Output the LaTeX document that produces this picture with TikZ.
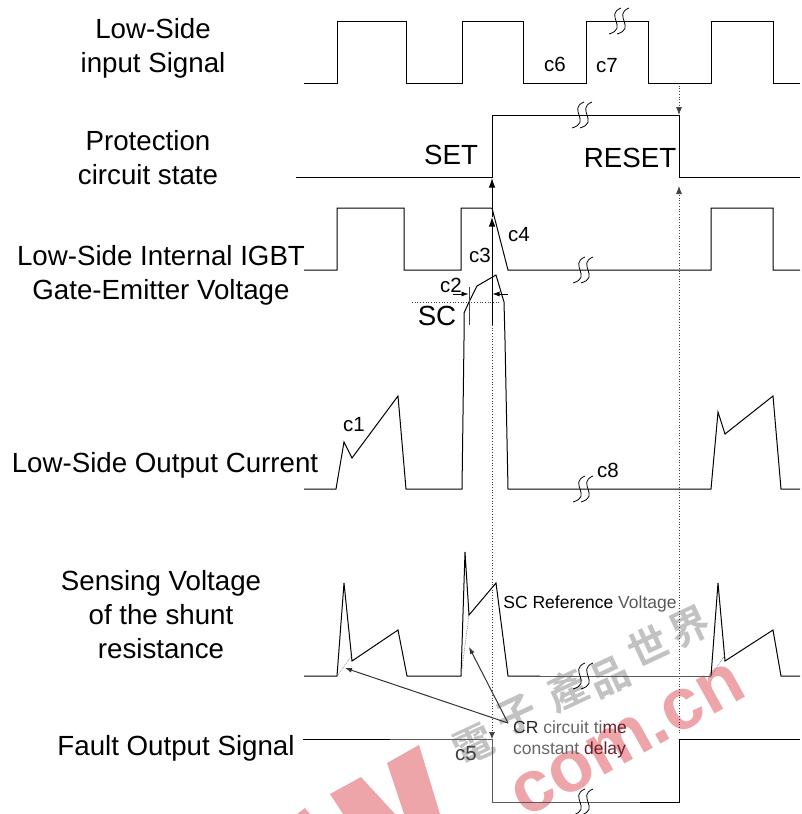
\documentclass[tikz,border=0pt]{standalone}
\usepackage{fontspec}
\setmainfont{Liberation Sans}
\newfontfamily\cjkwm{Noto Sans CJK TC}[BoldFont={* Bold}]
\usetikzlibrary{arrows.meta}
\definecolor{wmpink}{HTML}{EDA5AA}
\definecolor{wmgray}{HTML}{C2C2C2}
\definecolor{wmdark}{HTML}{6E1F28}
\newcommand{\brk}[2]{%
  \begin{scope}[shift={(#1,#2)}]
    \draw[wave,line width=.8pt] (-10,13) .. controls (10,7) and (-15,-6) .. (2,-13);
    \draw[wave,line width=.8pt] (-2,13) .. controls (18,7) and (-7,-6) .. (10,-13);
  \end{scope}}
\tikzset{
  wave/.style={draw=black,line width=1pt,line join=miter},
  fadewave/.style={draw=black!65,line width=1pt,line join=miter},
  thinwave/.style={draw=black!55,line width=.7pt,densely dotted},
  dots/.style={draw=black!75,line width=.7pt,dotted},
  tip/.style={-{Latex[length=9.5pt,width=6.5pt]}},
  smalltip/.style={-{Latex[length=7pt,width=5pt]}},
  big/.style={font=\fontsize{27.7}{34}\selectfont,align=center,inner sep=0pt},
  lab/.style={font=\fontsize{20.5}{24}\selectfont,inner sep=0pt},
  mid/.style={font=\fontsize{17.5}{21}\selectfont,align=left,inner sep=0pt},
  wmc/.style={wmgray,font=\cjkwm\bfseries\fontsize{40}{40}\selectfont,inner sep=0pt}
}
\begin{document}
\begin{tikzpicture}[x=1pt,y=-1pt]
\useasboundingbox (0,0) rectangle (802,814);
% watermark
\fill[wmpink] (297,814) -- (305,808) -- (310,814) -- cycle;
\fill[wmpink] (330,794) -- (361,777) -- (395,814) -- (343,814) -- cycle;
\fill[wmpink] (387,763) -- (419,745) -- (440,814) -- (404,814) -- cycle;
\begin{scope}
\clip (0,0) rectangle (802,814);
\node[rotate=29,text=wmpink,font=\bfseries\fontsize{73}{73}\selectfont,inner sep=0pt] (wmcom) at (628,740) {com.cn};
\end{scope}
\node[wmc,rotate=25] (wm1) at (473,745) {電};
\node[wmc,rotate=25] (wm2) at (517,715) {子};
\node[wmc,rotate=25] (wm3) at (567,690) {產};
\node[wmc,rotate=25] (wm4) at (610,677) {品};
\node[wmc,rotate=25] (wm5) at (648,645) {世};
\node[wmc,rotate=25] (wm6) at (690,627) {界};
% dotted guides
\coordinate (setA) at (492,178);
\coordinate (setB) at (492,217);
\coordinate (fault) at (492,739);
\coordinate (faultTop) at (492,325);
\coordinate (resetTip) at (679,186);
\coordinate (resetBot) at (679,733);
\coordinate (inFall) at (679,83);
\coordinate (stateTop) at (679,115);
\draw[dots,-{Latex[length=7pt,width=6pt]}] (faultTop) -- (fault);
\draw[dots,-{Latex[length=8pt,width=6pt]}] (resetBot) -- (resetTip);
\draw[dots,-{Latex[length=8pt,width=6pt]}] (inFall) -- (stateTop);
\draw[wave,tip] (faultTop) -- (setB);
\draw[wave,tip] (setB) -- (setA);
% input
\draw[wave] (304,83) -- (337,83) -- (337,21) -- (406,21) -- (406,83) -- (462,83) -- (462,21) -- (523,21) -- (523,83) -- (586,83) -- (586,21) -- (648,21) -- (648,83) -- (711,83) -- (711,21) -- (773,21) -- (773,83) -- (800,83);
\brk{619}{21}
% protection
\draw[wave] (296,177) -- (492,177) -- (492,115) -- (679,115) -- (679,177) -- (800,177);
\brk{582}{115}
% gate
\draw[wave] (304,270) -- (337,270) -- (337,208) -- (404,208) -- (404,270) -- (461,270) -- (461,208) -- (492,208) -- (508,270) -- (711,270) -- (711,208) -- (773,208) -- (773,270) -- (800,270);
\brk{583}{270}
% current
\draw[wave] (304,489) -- (336,489) -- (344,442) -- (352,458) -- (398,396) -- (406,489) -- (462,489) -- (464,340) -- (464,313) -- (469,302) -- (477,286) -- (496,275) -- (504,302) -- (505,340) -- (508,489) -- (711,489) -- (718,412) -- (725,434) -- (773,396) -- (781,489) -- (800,489);
\brk{583}{489}
% SC markers
\coordinate (scL) at (412,302);
\coordinate (scR) at (500,302);
\draw[dots] (scL) -- (scR);
\coordinate (t1a) at (469,287);
\coordinate (t1b) at (469,325);
\draw[wave,draw=black!75] (t1a) -- (t1b);
\coordinate (c2a) at (453,294);
\coordinate (c2b) at (468.5,294);
\coordinate (c3a) at (508,294);
\coordinate (c3b) at (492.5,294);
\draw[wave,line width=.8pt,smalltip] (c2a) -- (c2b);
\draw[wave,line width=.8pt,smalltip] (c3a) -- (c3b);
% sensing
\draw[wave] (304,676) -- (337,676) -- (344,583) -- (352,661) -- (398,630) -- (407,676) -- (461,676) -- (465,552) -- (469,615) -- (496,583) -- (508,676) -- (540,676);
\draw[fadewave] (540,676) -- (711,676);
\draw[wave] (711,676) -- (718,583) -- (725,661) -- (773,630) -- (781,676) -- (800,676);
\draw[thinwave] (337,676) -- (352,655);
\draw[thinwave] (461,676) -- (469,615);
\draw[thinwave] (711,676) -- (725,655);
\brk{583}{676}
% fault
\draw[wave] (303,739) -- (390,739);
\draw[fadewave] (390,739) -- (492,739) -- (492,802) -- (640,802);
\draw[wave] (640,802) -- (679,802) -- (679,739) -- (800,739);
\brk{583}{802}
% CR arrows
\coordinate (cr) at (508,723);
\coordinate (crA) at (345,668);
\coordinate (crB) at (469,647);
\draw[wave,draw=black!80,smalltip] (cr) -- (crA);
\draw[wave,draw=black!80,smalltip] (cr) -- (crB);
% texts
\node[big] (t1) at (153,48.5) {Low-Side\\input Signal};
\node[big] (t2) at (148,158) {Protection\\circuit state};
\node[big] (t3) at (161,275.5) {Low-Side Internal IGBT\\Gate-Emitter Voltage};
\node[big] (t4) at (165,465) {Low-Side Output Current};
\node[big] (t5) at (161,615) {Sensing Voltage\\of the shunt\\resistance};
\node[big] (t6) at (176,748) {Fault Output Signal};
\node[big] (set) at (451,155) {SET};
\node[big] (reset) at (630,158) {RESET};
\node[big] (sc) at (437,316) {SC};
\node[lab] (c1) at (354,425) {c1};
\node[lab] (c2) at (451,285) {c2};
\node[lab] (c3) at (480,255) {c3};
\node[lab] (c4) at (519,235) {c4};
\node[lab,text=black!75] (c5) at (466,754) {c5};
\node[lab] (c6) at (555,64) {c6};
\node[lab] (c7) at (607,66) {c7};
\node[lab] (c8) at (608,470) {c8};
\node[mid] (scref) at (590,604) {SC Reference \textcolor{black!65}{Voltage}};
\node[mid,text=black!60] (crtext) at (570,739.5) {\textcolor{black!85}{CR} circuit ti\textcolor{wmdark}{me}\\constant \textcolor{wmdark}{delay}};
\end{tikzpicture}
\end{document}
